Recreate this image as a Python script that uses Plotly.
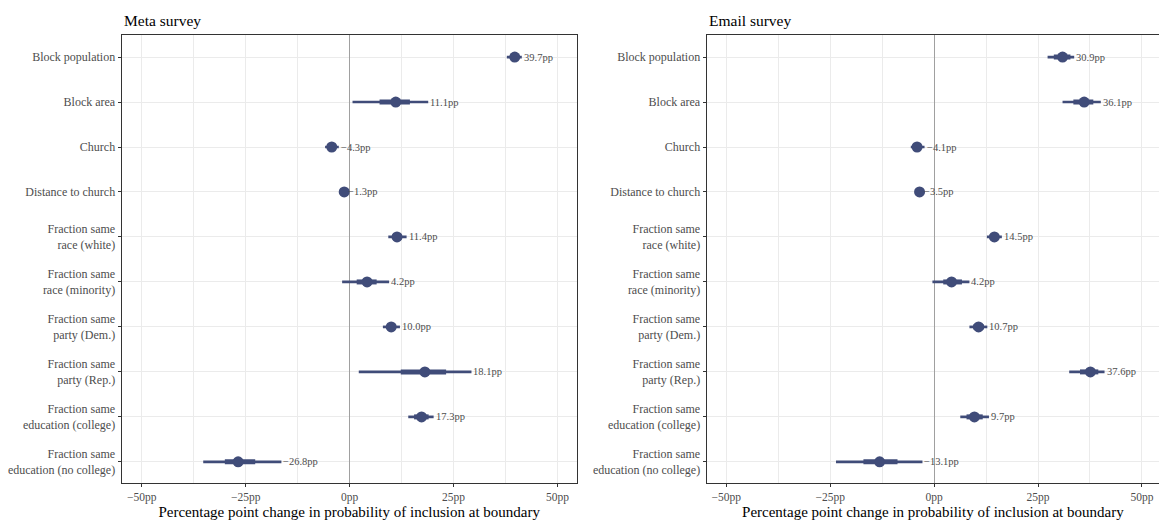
import plotly.graph_objects as go

categories = [
    "Block population",
    "Block area",
    "Church",
    "Distance to church",
    "Fraction same<br>race (white)",
    "Fraction same<br>race (minority)",
    "Fraction same<br>party (Dem.)",
    "Fraction same<br>party (Rep.)",
    "Fraction same<br>education (college)",
    "Fraction same<br>education (no college)",
]

meta_est = [39.7, 11.1, -4.3, -1.3, 11.4, 4.2, 10.0, 18.1, 17.3, -26.8]
meta_lo95 = [37.8, 0.7, -5.9, -1.8, 9.3, -1.8, 8.0, 2.2, 14.1, -35.2]
meta_hi95 = [41.4, 18.9, -2.6, -0.8, 13.7, 9.5, 12.1, 29.3, 20.2, -16.4]
meta_lo_in = [38.6, 7.2, -5.2, -1.6, 10.3, 1.7, 9.0, 12.3, 15.5, -30.0]
meta_hi_in = [40.8, 14.5, -3.4, -1.0, 12.6, 6.5, 11.0, 23.2, 19.0, -22.7]

email_est = [30.9, 36.1, -4.1, -3.5, 14.5, 4.2, 10.7, 37.6, 9.7, -13.1]
email_lo95 = [27.3, 30.9, -5.6, -4.0, 12.7, -0.4, 8.5, 32.5, 6.3, -23.6]
email_hi95 = [33.7, 40.1, -2.3, -3.0, 16.3, 8.5, 12.8, 41.0, 13.2, -2.8]
email_lo_in = [28.8, 33.5, -5.0, -3.8, 13.4, 2.2, 9.4, 35.1, 7.8, -17.0]
email_hi_in = [32.8, 38.3, -3.2, -3.2, 15.6, 6.7, 12.0, 39.5, 11.7, -8.8]

panel_titles = ["Meta survey", "Email survey"]
x_ticks = [-50, -25, 0, 25, 50]
x_ticklabels = ["\u221250pp", "\u221225pp", "0pp", "25pp", "50pp"]
x_title = "Percentage point change in probability of inclusion at boundary"

COLOR = "#404c79"
FONT = "Liberation Serif, Times New Roman, serif"
GRID = "#ebebeb"
TXT = "#4d4d4d"

W, H = 1159, 521
MT, MB = 34.5, 37.5

fig = go.Figure()

def fmt(v):
    s = f"{abs(v):.1f}pp"
    return ("\u2212" + s) if v < 0 else s

panels = [
    (meta_est, meta_lo95, meta_hi95, meta_lo_in, meta_hi_in, "x", "y"),
    (email_est, email_lo95, email_hi95, email_lo_in, email_hi_in, "x2", "y2"),
]
ys = list(range(len(categories)))
annotations = []
for est, lo, hi, loi, hii, xa, ya in panels:
    xs_thin, ys_thin, xs_thick, ys_thick = [], [], [], []
    for i in ys:
        xs_thin += [lo[i], hi[i], None]
        ys_thin += [i, i, None]
        xs_thick += [loi[i], hii[i], None]
        ys_thick += [i, i, None]
    fig.add_trace(go.Scatter(x=xs_thin, y=ys_thin, mode="lines",
                             line=dict(color=COLOR, width=2.7),
                             xaxis=xa, yaxis=ya, showlegend=False, hoverinfo="skip"))
    fig.add_trace(go.Scatter(x=xs_thick, y=ys_thick, mode="lines",
                             line=dict(color=COLOR, width=5),
                             xaxis=xa, yaxis=ya, showlegend=False, hoverinfo="skip"))
    fig.add_trace(go.Scatter(x=est, y=ys, mode="markers",
                             marker=dict(color=COLOR, size=11, line=dict(width=0)),
                             xaxis=xa, yaxis=ya, showlegend=False))
    for i in ys:
        annotations.append(dict(x=hi[i], y=i, xref=xa, yref=ya, text=fmt(est[i]),
                                showarrow=False, xanchor="left", yanchor="middle",
                                xshift=0, font=dict(family=FONT, size=10.5, color=TXT)))

dom1 = [121.7 / W, 576.7 / W]
dom2 = [706.7 / W, 1.0]

axis_common_x = dict(
    tickvals=x_ticks, ticktext=x_ticklabels,
    showgrid=True, gridcolor=GRID, gridwidth=1,
    minor=dict(tickvals=[-37.5, -12.5, 12.5, 37.5], showgrid=True, gridcolor=GRID, gridwidth=1, ticklen=0),
    zeroline=True, zerolinecolor="#a0a0a0", zerolinewidth=1.3,
    showline=True, linecolor="#333333", linewidth=1.2,
    ticks="outside", ticklen=3, tickcolor="#333333", tickwidth=1,
    tickfont=dict(family=FONT, size=11.5, color=TXT),
    title=dict(text=x_title, font=dict(family=FONT, size=15, color="black"), standoff=0),
    fixedrange=True,
)
axis_common_y = dict(
    tickvals=ys, ticktext=categories,
    range=[9.47, -0.49],
    showgrid=True, gridcolor=GRID, gridwidth=1, zeroline=False,
    showline=True, linecolor="#333333", linewidth=1.2,
    ticks="outside", ticklen=3, tickcolor="#333333", tickwidth=1,
    tickfont=dict(family=FONT, size=12, color=TXT),
    fixedrange=True,
)

fig.update_layout(
    width=W, height=H,
    margin=dict(l=0, r=0, t=MT, b=MB, pad=0),
    plot_bgcolor="white", paper_bgcolor="white",
    font=dict(family=FONT),
    xaxis=dict(domain=dom1, range=[-54.8, 54.6], anchor="y", mirror=True, **axis_common_x),
    yaxis=dict(domain=[0, 1], anchor="x", mirror=True, **axis_common_y),
    xaxis2=dict(domain=dom2, range=[-54.7, 54.1], anchor="y2", mirror=True, **axis_common_x),
    yaxis2=dict(domain=[0, 1], anchor="x2", mirror=False, **axis_common_y),
    annotations=annotations + [
        dict(x=dom1[0], y=1, xref="paper", yref="paper", text=panel_titles[0], showarrow=False,
             xanchor="left", yanchor="bottom", yshift=4, font=dict(family=FONT, size=15.5, color="black")),
        dict(x=dom2[0], y=1, xref="paper", yref="paper", text=panel_titles[1], showarrow=False,
             xanchor="left", yanchor="bottom", yshift=4, font=dict(family=FONT, size=15.5, color="black")),
    ],
)

fig.write_html("out.html", config={"displayModeBar": False},
               post_script="document.body.style.margin='0';document.body.style.overflow='hidden';")
